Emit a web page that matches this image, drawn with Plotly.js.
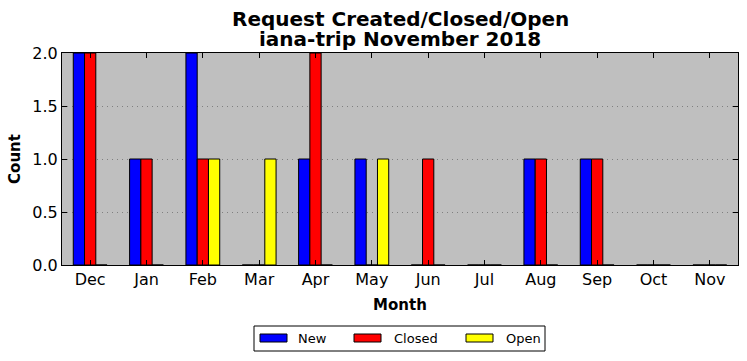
<!DOCTYPE html>
<html>
<head>
<meta charset="utf-8">
<script src="https://cdn.plot.ly/plotly-3.0.1.min.js"></script>
<style>html,body{margin:0;padding:0;background:#fff;}#chart{width:747px;height:361px;}</style>
</head>
<body>
<div id="chart"></div>
<script>
const months = ["Dec","Jan","Feb","Mar","Apr","May","Jun","Jul","Aug","Sep","Oct","Nov"];
const newVals    = [2,1,2,0,1,1,0,0,1,1,0,0];
const closedVals = [2,1,1,0,2,0,1,0,1,1,0,0];
const openVals   = [0,0,1,1,0,1,0,0,0,0,0,0];
const seriesNames = ["New","Closed","Open"];
const seriesColors = ["#0000ff","#ff0000","#ffff00"];
const yTicks = [0,0.5,1.0,1.5,2.0];
const titleLines = ["Request Created/Closed/Open","iana-trip November 2018"];

const FONT = "DejaVu Sans, sans-serif";
const xIdx = months.map((m,i)=>i);
const vals = [newVals, closedVals, openVals];

const traces = vals.map((v,k)=>({
  type:"bar", x:xIdx, y:v, name:seriesNames[k],
  marker:{color:seriesColors[k], line:{color:"#000", width:1}},
  showlegend:false, hoverinfo:"skip"
}));

// manual matplotlib-like legend (paper coords)
const L = 62, W = 676, B = 265, H = 212;
const px = x => (x - L)/W;
const py = y => (B - y)/H;
const shapes = [
  {type:"rect", xref:"paper", yref:"paper", x0:px(254), x1:px(545), y0:py(351), y1:py(326),
   line:{color:"#000", width:1}, fillcolor:"#fff"}
];
const annotations = [];
const symX = [260, 354, 466];
const txtX = [296, 392, 504];
seriesNames.forEach((n,k)=>{
  shapes.push({type:"rect", xref:"paper", yref:"paper", x0:px(symX[k]), x1:px(symX[k]+27),
    y0:py(342), y1:py(334), line:{color:"#000", width:1}, fillcolor:seriesColors[k]});
  annotations.push({xref:"paper", yref:"paper", x:px(txtX[k]), y:py(338.5), xanchor:"left", yanchor:"middle",
    text:n, showarrow:false, font:{family:FONT, size:13, color:"#000"}});
});
// two-line bold title
const titleY = [18.5, 39];
titleLines.forEach((t,i)=>{
  annotations.push({xref:"paper", yref:"paper", x:0.5, y:py(titleY[i]), xanchor:"center", yanchor:"middle",
    text:"<b>"+t+"</b>", showarrow:false, font:{family:FONT, size:20, color:"#000"}});
});

const layout = {
  width:747, height:361,
  margin:{l:62, r:9, t:53, b:96, pad:0},
  paper_bgcolor:"#fff", plot_bgcolor:"#bfbfbf",
  font:{family:FONT, color:"#000"},
  barmode:"group", bargap:0.4, bargroupgap:0,
  xaxis:{
    range:[-0.5, 11.5], tickmode:"array", tickvals:xIdx, ticktext:months,
    ticks:"inside", ticklen:5, tickcolor:"#000", mirror:"ticks",
    showline:true, linecolor:"#000", linewidth:1, showgrid:false, zeroline:false,
    tickfont:{family:FONT, size:16, color:"#000"},
    title:{text:"<b>Month</b>", font:{family:FONT, size:15, color:"#000"}, standoff:11}
  },
  yaxis:{
    range:[0,2], tickmode:"array", tickvals:yTicks, ticktext:yTicks.map(v=>v.toFixed(1)),
    ticks:"inside", ticklen:5, tickcolor:"#000", mirror:"ticks",
    showline:true, linecolor:"#000", linewidth:1,
    showgrid:true, gridcolor:"#808080", griddash:"1px,4px", gridwidth:1, zeroline:false,
    tickfont:{family:FONT, size:16, color:"#000"},
    title:{text:"<b>Count</b>", font:{family:FONT, size:15, color:"#000"}, standoff:8}
  },
  shapes:shapes, annotations:annotations
};
Plotly.newPlot("chart", traces, layout, {staticPlot:true, displayModeBar:false});
</script>
</body>
</html>
